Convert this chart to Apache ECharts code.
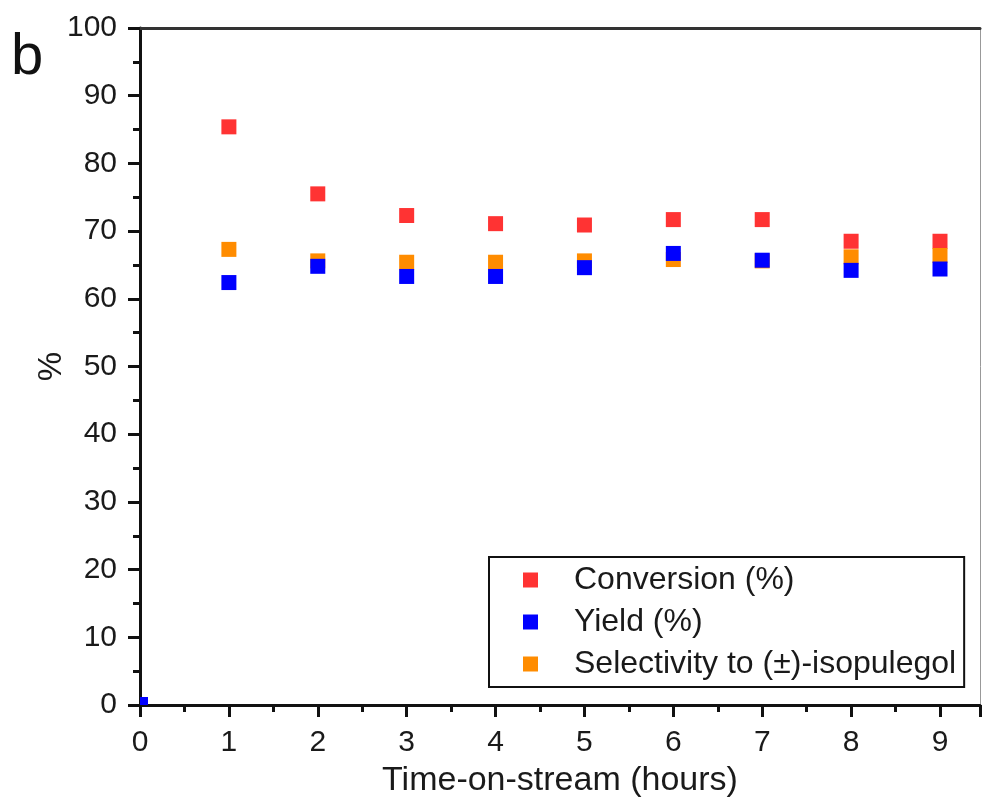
<!DOCTYPE html>
<html>
<head>
<meta charset="utf-8">
<script src="https://cdn.jsdelivr.net/npm/echarts@6/dist/echarts.min.js"></script>
<style>
  html, body { margin: 0; padding: 0; background: #fff; }
  #chart { width: 982px; height: 803px; }
</style>
</head>
<body>
<div id="chart"></div>
<script>
// Time-on-stream (hours)
const hours = [0, 1, 2, 3, 4, 5, 6, 7, 8, 9];
// Conversion (%)
const conversion = [0, 85.4, 75.5, 72.3, 71.1, 70.9, 71.7, 71.7, 68.5, 68.5];
// Yield (%)
const yieldPct = [0, 62.4, 64.8, 63.3, 63.3, 64.6, 66.7, 65.7, 64.2, 64.4];
// Selectivity to (±)-isopulegol (%)
const selectivity = [0, 67.3, 65.6, 65.4, 65.4, 65.6, 65.8, 65.6, 66.2, 66.4];

const xTicks = [0, 1, 2, 3, 4, 5, 6, 7, 8, 9];
const yTicks = [0, 10, 20, 30, 40, 50, 60, 70, 80, 90, 100];

const FONT = '"Liberation Sans", Arial, Helvetica, sans-serif';

// The point at the origin sits in the corner of the frame, so only the
// quarter inside the plot area is shown.
const pairs = ys => hours.map((h, i) => {
  const item = { value: [h, ys[i]] };
  if (h === 0 && ys[i] === 0) {
    item.symbolSize = 8;
    item.symbolOffset = [4, -4];
  }
  return item;
});

const chart = echarts.init(document.getElementById('chart'), null, { renderer: 'canvas' });

const markerSeries = (name, color, data) => ({
  name,
  type: 'scatter',
  symbol: 'rect',
  symbolSize: 15,
  clip: true,
  itemStyle: { color, opacity: 1 },
  data: pairs(data),
  emphasis: { disabled: true }
});

chart.setOption({
  animation: false,
  backgroundColor: '#fff',
  textStyle: { fontFamily: FONT },
  grid: { left: 140, top: 28, right: 2, bottom: 97, containLabel: false },
  graphic: [{
    type: 'text',
    left: 11,
    top: 29,
    style: { text: 'b', fontSize: 58, fontFamily: FONT, fill: '#111' }
  }],
  legend: {
    orient: 'vertical',
    left: 489,
    top: 557,
    padding: [7, 8, 7, 34],
    itemGap: 10,
    itemWidth: 15,
    itemHeight: 15,
    icon: 'rect',
    borderColor: '#111',
    borderWidth: 2,
    backgroundColor: '#fff',
    itemStyle: { opacity: 1 },
    textStyle: { fontSize: 32, fontFamily: FONT, color: '#1a1a1a', padding: [0, 0, 0, 31] },
    data: ['Conversion (%)', 'Yield (%)', 'Selectivity to (±)-isopulegol']
  },
  xAxis: [{
    type: 'value',
    min: 0,
    max: 9.45,
    interval: 1,
    name: 'Time-on-stream (hours)',
    nameLocation: 'middle',
    nameGap: 59,
    nameMoveOverlap: false,
    nameTextStyle: { fontSize: 34, color: '#1a1a1a', fontFamily: FONT },
    axisLine: { show: true, onZero: false, lineStyle: { color: '#111', width: 3 } },
    axisTick: { show: true, inside: false, length: 12, lineStyle: { color: '#111', width: 3 } },
    minorTick: { show: true, splitNumber: 2, length: 7, lineStyle: { color: '#111', width: 3 } },
    axisLabel: {
      margin: 23, fontSize: 30, color: '#1a1a1a', fontFamily: FONT,
      showMaxLabel: false,
      formatter: v => (xTicks.includes(v) ? String(v) : '')
    },
    splitLine: { show: false }
  }, {
    type: 'value',
    position: 'top',
    min: 0,
    max: 9.45,
    axisLine: { show: true, onZero: false, lineStyle: { color: '#333', width: 3 } },
    axisTick: { show: false },
    axisLabel: { show: false },
    splitLine: { show: false }
  }],
  yAxis: [{
    type: 'value',
    min: 0,
    max: 100,
    interval: 10,
    name: '%',
    nameLocation: 'middle',
    nameGap: 72,
    nameMoveOverlap: false,
    nameTextStyle: { fontSize: 33, color: '#1a1a1a', fontFamily: FONT },
    axisLine: { show: true, onZero: false, lineStyle: { color: '#111', width: 3 } },
    axisTick: { show: true, inside: false, length: 12, lineStyle: { color: '#111', width: 3 } },
    minorTick: { show: true, splitNumber: 2, length: 7, lineStyle: { color: '#111', width: 3 } },
    axisLabel: {
      margin: 23, fontSize: 30, color: '#1a1a1a', fontFamily: FONT,
      formatter: v => (yTicks.includes(v) ? String(v) : '')
    },
    splitLine: { show: false }
  }, {
    type: 'value',
    position: 'right',
    min: 0,
    max: 100,
    axisLine: { show: true, onZero: false, lineStyle: { color: '#999', width: 1 } },
    axisTick: { show: false },
    axisLabel: { show: false },
    splitLine: { show: false }
  }],
  series: [
    markerSeries('Conversion (%)', '#ff3333', conversion),
    markerSeries('Selectivity to (±)-isopulegol', '#ff8c00', selectivity),
    markerSeries('Yield (%)', '#0000ff', yieldPct)
  ]
});
</script>
</body>
</html>
